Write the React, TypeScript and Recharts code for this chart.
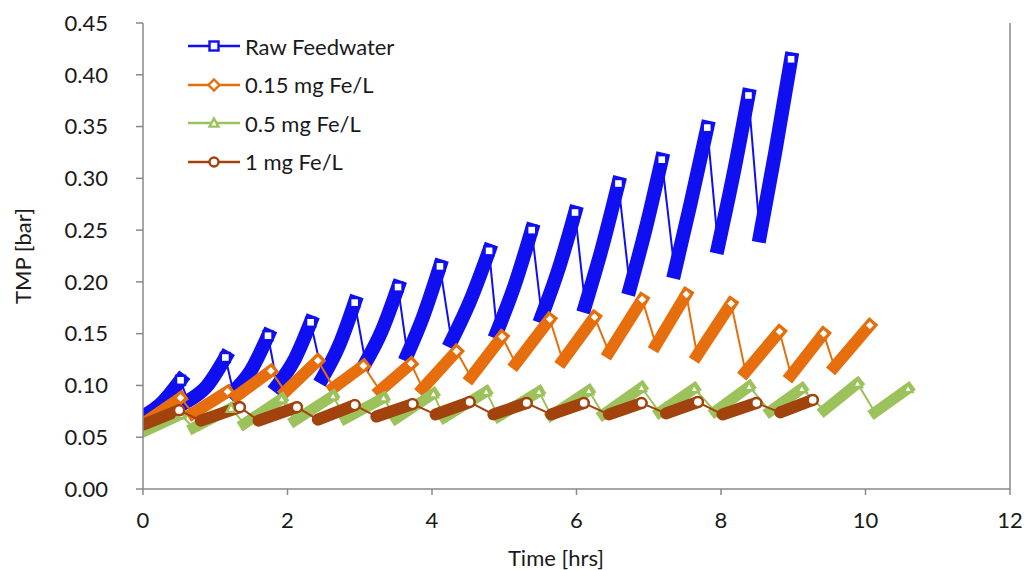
import React from 'react';
import { LineChart, Line, XAxis, YAxis, ReferenceLine } from 'recharts';

type Pt = [number, number];

const xTicks = [0, 2, 4, 6, 8, 10, 12];
const yTicks = [0, 0.05, 0.1, 0.15, 0.2, 0.25, 0.3, 0.35, 0.4, 0.45];

const seriesNames = ['Raw Feedwater', '0.15 mg Fe/L', '0.5 mg Fe/L', '1 mg Fe/L'];

// each filtration cycle: [time (hrs), TMP (bar)] points from start to peak
const rawFeedwater: Pt[][] = [
  [[0, 0.070], [0.26, 0.083], [0.52, 0.105]],
  [[0.62, 0.085], [0.88, 0.099], [1.14, 0.127]],
  [[1.25, 0.094], [1.49, 0.114], [1.73, 0.148]],
  [[1.86, 0.100], [2.09, 0.124], [2.32, 0.161]],
  [[2.49, 0.108], [2.71, 0.138], [2.93, 0.180]],
  [[3.08, 0.122], [3.30, 0.152], [3.53, 0.195]],
  [[3.66, 0.130], [3.88, 0.167], [4.11, 0.215]],
  [[4.27, 0.143], [4.53, 0.182], [4.79, 0.230]],
  [[4.90, 0.152], [5.14, 0.196], [5.38, 0.250]],
  [[5.52, 0.167], [5.75, 0.212], [5.98, 0.267]],
  [[6.12, 0.177], [6.35, 0.232], [6.58, 0.295]],
  [[6.74, 0.194], [6.96, 0.252], [7.18, 0.318]],
  [[7.36, 0.210], [7.58, 0.276], [7.81, 0.349]],
  [[7.96, 0.234], [8.17, 0.303], [8.38, 0.380]],
  [[8.54, 0.245], [8.75, 0.325], [8.97, 0.415]],
];

const fe015: Pt[][] = [
  [[0, 0.063], [0.52, 0.088]],
  [[0.69, 0.073], [1.17, 0.094]],
  [[1.30, 0.090], [1.77, 0.114]],
  [[1.97, 0.094], [2.42, 0.124]],
  [[2.64, 0.098], [3.05, 0.119]],
  [[3.28, 0.095], [3.71, 0.121]],
  [[3.87, 0.097], [4.34, 0.133]],
  [[4.54, 0.108], [4.97, 0.147]],
  [[5.16, 0.121], [5.63, 0.164]],
  [[5.81, 0.124], [6.25, 0.166]],
  [[6.45, 0.132], [6.91, 0.183]],
  [[7.10, 0.139], [7.52, 0.188]],
  [[7.67, 0.129], [8.14, 0.179]],
  [[8.34, 0.113], [8.81, 0.152]],
  [[8.97, 0.110], [9.42, 0.150]],
  [[9.57, 0.118], [10.06, 0.158]],
];

const fe05: Pt[][] = [
  [[0, 0.055], [0.52, 0.072]],
  [[0.70, 0.059], [1.22, 0.078]],
  [[1.40, 0.063], [1.92, 0.087]],
  [[2.10, 0.066], [2.63, 0.090]],
  [[2.80, 0.068], [3.33, 0.088]],
  [[3.50, 0.068], [4.02, 0.092]],
  [[4.17, 0.069], [4.75, 0.094]],
  [[4.92, 0.070], [5.48, 0.094]],
  [[5.65, 0.071], [6.17, 0.095]],
  [[6.37, 0.072], [6.90, 0.098]],
  [[7.15, 0.074], [7.63, 0.097]],
  [[7.92, 0.075], [8.39, 0.099]],
  [[8.68, 0.075], [9.12, 0.097]],
  [[9.43, 0.076], [9.89, 0.102]],
  [[10.13, 0.074], [10.59, 0.097]],
];

const fe1: Pt[][] = [
  [[0, 0.062], [0.50, 0.076]],
  [[0.80, 0.066], [1.34, 0.079]],
  [[1.60, 0.066], [2.13, 0.079]],
  [[2.42, 0.067], [2.93, 0.081]],
  [[3.23, 0.070], [3.73, 0.082]],
  [[4.05, 0.072], [4.52, 0.084]],
  [[4.85, 0.072], [5.31, 0.083]],
  [[5.65, 0.072], [6.10, 0.083]],
  [[6.45, 0.072], [6.90, 0.083]],
  [[7.24, 0.073], [7.68, 0.084]],
  [[8.02, 0.072], [8.49, 0.083]],
  [[8.82, 0.074], [9.27, 0.086]],
];

const BLUE = '#0F0FF2';
const ORANGE = '#E66E0C';
const GREEN = '#9CC25C';
const BROWN = '#A2430E';
const TEXT = '#1a1a1a';
const FONT = 'Lato, "Open Sans", sans-serif';

type Shape = 'square' | 'diamond' | 'triangle' | 'circle';

const Marker = ({ cx, cy, shape, color, size }: { cx: number; cy: number; shape: Shape; color: string; size: number }) => {
  const h = size / 2;
  const sw = 2.4;
  if (shape === 'square')
    return <rect x={cx - h} y={cy - h} width={size} height={size} fill="#fff" stroke={color} strokeWidth={sw} />;
  if (shape === 'diamond')
    return (
      <polygon
        points={`${cx},${cy - h - 1} ${cx + h + 1},${cy} ${cx},${cy + h + 1} ${cx - h - 1},${cy}`}
        fill="#fff"
        stroke={color}
        strokeWidth={sw}
      />
    );
  if (shape === 'triangle')
    return (
      <polygon
        points={`${cx},${cy - h} ${cx + h},${cy + h * 0.8} ${cx - h},${cy + h * 0.8}`}
        fill="#fff"
        stroke={color}
        strokeWidth={sw}
      />
    );
  return <circle cx={cx} cy={cy} r={h} fill="#fff" stroke={color} strokeWidth={sw} />;
};

const bandData = (cycles: Pt[][]) => {
  const out: { t: number; v: number | null }[] = [];
  cycles.forEach((c, i) => {
    c.forEach(([t, v]) => out.push({ t, v }));
    if (i < cycles.length - 1) out.push({ t: c[c.length - 1][0], v: null });
  });
  return out;
};
const pathData = (cycles: Pt[][]) => cycles.flat().map(([t, v]) => ({ t, v }));
const peakData = (cycles: Pt[][]) => cycles.map((c) => ({ t: c[c.length - 1][0], v: c[c.length - 1][1] }));

const series = [
  { name: seriesNames[0], cycles: rawFeedwater, color: BLUE, shape: 'square' as Shape, band: 14, cap: 'square' as const },
  { name: seriesNames[1], cycles: fe015, color: ORANGE, shape: 'diamond' as Shape, band: 12, cap: 'square' as const },
  { name: seriesNames[2], cycles: fe05, color: GREEN, shape: 'triangle' as Shape, band: 11, cap: 'square' as const },
  { name: seriesNames[3], cycles: fe1, color: BROWN, shape: 'circle' as Shape, band: 12, cap: 'round' as const },
];

const LegendBox = () => (
  <div style={{ position: 'absolute', left: 186, top: 27, fontFamily: FONT, fontSize: 22, color: TEXT }}>
    {series.map((s) => (
      <div key={s.name} style={{ display: 'flex', alignItems: 'center', height: 38.5 }}>
        <svg width={56} height={20} style={{ marginRight: 3 }}>
          <line x1={2} y1={10} x2={54} y2={10} stroke={s.color} strokeWidth={2.5} />
          <Marker cx={28} cy={10} shape={s.shape} color={s.color} size={9} />
        </svg>
        <span>{s.name}</span>
      </div>
    ))}
  </div>
);

export default function App() {
  const lines: React.ReactNode[] = [];
  series.forEach((s, i) => {
    lines.push(
      <Line
        key={`thin${i}`}
        data={pathData(s.cycles)}
        dataKey="v"
        type="linear"
        stroke={s.color}
        strokeWidth={2}
        dot={false}
        activeDot={false}
        legendType="none"
        isAnimationActive={false}
      />
    );
    lines.push(
      <Line
        key={`band${i}`}
        data={bandData(s.cycles)}
        dataKey="v"
        type="monotone"
        stroke={s.color}
        strokeWidth={s.band}
        strokeLinecap={s.cap}
        connectNulls={false}
        dot={false}
        activeDot={false}
        legendType="none"
        isAnimationActive={false}
      />
    );
    lines.push(
      <Line
        key={`peak${i}`}
        data={peakData(s.cycles)}
        dataKey="v"
        stroke="none"
        dot={(p: any) => (
          <Marker key={`m${i}-${p.index}`} cx={p.cx} cy={p.cy} shape={s.shape} color={s.color} size={s.shape === 'circle' ? 10 : 9} />
        )}
        activeDot={false}
        legendType="none"
        isAnimationActive={false}
      />
    );
  });

  return (
    <div style={{ position: 'absolute', left: 0, top: 0, width: 1026, height: 570, background: '#fff' }}>
      <LineChart width={1026} height={570} margin={{ top: 23, right: 16, bottom: 11, left: 10 }}>
        <XAxis
          type="number"
          dataKey="t"
          domain={[0, 12]}
          ticks={xTicks}
          allowDataOverflow
          axisLine={{ stroke: '#888', strokeWidth: 1.5 }}
          tickLine={{ stroke: '#888', strokeWidth: 1.5 }}
          tickSize={6}
          tickMargin={17}
          height={70}
          tick={{ fill: TEXT, fontSize: 22, fontFamily: FONT }}
        />
        <YAxis
          type="number"
          domain={[0, 0.45]}
          ticks={yTicks}
          allowDataOverflow
          width={133}
          axisLine={{ stroke: '#888', strokeWidth: 1.5 }}
          tickLine={{ stroke: '#888', strokeWidth: 1.5 }}
          tickSize={7}
          tickMargin={28}
          tickFormatter={(v: number) => v.toFixed(2)}
          tick={{ fill: TEXT, fontSize: 22, fontFamily: FONT }}
        />
        <ReferenceLine x={12} stroke="#888" strokeWidth={1.5} />
        {lines}
      </LineChart>
      <LegendBox />
      <div
        style={{
          position: 'absolute',
          left: 22,
          top: 256,
          transform: 'translate(-50%, -50%) rotate(-90deg)',
          fontFamily: FONT,
          fontSize: 22,
          color: TEXT,
          whiteSpace: 'nowrap',
        }}
      >
        TMP [bar]
      </div>
      <div
        style={{
          position: 'absolute',
          left: 556,
          top: 557,
          transform: 'translate(-50%, -50%)',
          fontFamily: FONT,
          fontSize: 22,
          color: TEXT,
          whiteSpace: 'nowrap',
        }}
      >
        Time [hrs]
      </div>
    </div>
  );
}
